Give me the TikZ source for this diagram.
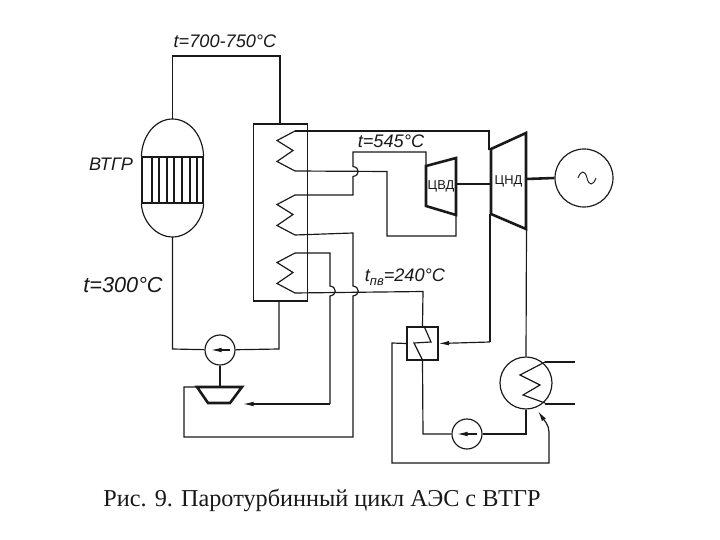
\documentclass[tikz,border=0pt]{standalone}
\usepackage{fontspec}
\setmainfont{Liberation Serif}
\newfontfamily\handfont{Liberation Sans}
\usetikzlibrary{scopes,arrows.meta}
\definecolor{ink}{gray}{0.1}
\newcommand{\hop}[2]{-- (#1,#2-5) .. controls +(7,1) and +(7,-1) .. (#1,#2+5)}
\tikzset{
  pipe/.style={draw=ink,line width=1pt,line join=miter},
  shaft/.style={draw=ink,line width=2.2pt},
  flow/.style={pipe,-{Latex[length=9pt,width=4pt]}},
  hand/.style={inner sep=0pt,text=ink,font=\handfont\itshape\fontsize{15.5}{16}\selectfont},
  small/.style={font=\handfont\fontsize{11}{11}\selectfont},
  large/.style={font=\handfont\itshape\fontsize{18.5}{19}\selectfont},
  roundbox/.style={circle,draw=ink,line width=1pt,inner sep=0pt,fill=white},
  box/.style={draw=ink,line width=1pt,inner sep=0pt}
}
\begin{document}
\begin{tikzpicture}[x=0.03cm,y=-0.03cm]
  \useasboundingbox (0,0) rectangle (720,540);

  \node[box,minimum width=1.83cm,minimum height=1.38cm] (core) at (172.5,180) {};
  \coordinate (rtop) at (172.5,119);
  \coordinate (rbot) at (172.5,237);
  \node[box,minimum width=1.62cm,minimum height=5.31cm] (hxbox) at (280.5,212.5) {};
  \node[roundbox,minimum size=0.9cm] (feedpump) at (220,350) {};
  \node[roundbox,minimum size=0.9cm] (condpump) at (467,434) {};
  \node[roundbox,minimum size=1.74cm] (gen) at (584,178) {};
  \node[roundbox,minimum size=1.56cm] (cond) at (526,383) {};
  \node[box,minimum width=0.93cm,minimum height=0.99cm] (heater) at (422.5,343.5) {};

  \coordinate (hvd) at (441,186);
  \coordinate (lpc) at (508.5,181);
  \coordinate (drive) at (220,387);

  { [pipe]
    \draw (core.north west) .. controls (142,135) and (156,119) .. (rtop)
      .. controls (189,119) and (203,135) .. (core.north east);
    \draw (core.south west) .. controls (142,221) and (156,237) .. (rbot)
      .. controls (189,237) and (203,221) .. (core.south east);
    \foreach \x in {152,159,167,174,182,190,197}
      \draw (\x,157) -- (\x,203);
    \draw (rtop) -- (172.5,56) -- (280,56) -- (280,124);
    \draw (rbot) -- (172.5,349) -- (feedpump);
    \draw (feedpump) -- (279,349) -- (279,301);
    \foreach \y/\n in {131/a,195/b,253/c} {
      \coordinate (coil\n) at (295,\y);
      \draw (coil\n) -- ++(-18,9.5) -- ++(16,10) -- ++(-16,11) -- ++(18,9.5)
        coordinate (coilend\n);
    }
    \draw (coila) -- (489,131) -- (489,150);
    \draw (coilenda) -- (387,171.5) -- (387,236) -- (456,236) -- (456,214);
    \draw (426,166) -- (426,152) -- (353,152) \hop{353}{171.5} -- (353,195) -- (coilb);
    \draw (coilendb) -- (353,233) \hop{353}{291} -- (353,437) -- (184,437) -- (184,387) -- (200,387);
    \draw (coilc) -- (330,253) \hop{330}{291} -- (330,404) coordinate (bleed);
    \draw (coilendc) -- (423,291.5) -- (heater.north);
    \draw (490,214) -- (490,342) coordinate (lpout);
    \draw (526.5,229) -- (cond.north);
    \draw (heater.west) -- (392,343) -- (392,463) -- (549,463) -- (549,432)
      coordinate (retstart);
    \draw (cond.south) -- (526,434) -- (condpump);
    \draw (condpump) -- (423,434) -- (heater.south);
    \draw (545,362) -- (575,362);
    \draw (545,404) -- (575,404);
    \draw (545,362) -- (520,375) -- (540,385) -- (523,395) -- (545,403);
    \draw (424,326) -- (431,342) -- (414,343) -- (422,359);
    \draw[thick] (578,178) .. controls (581,170) and (585,170) .. (587,178)
      .. controls (589,186) and (593,186) .. (596,178);
  }
  { [flow]
    \draw (bleed) -- (243,404);
    \draw (lpout) -- (heater.east);
    \draw (retstart) .. controls (549,425) and (544,420) .. (538,411);
    \draw (230,350) -- (211,350);
    \draw (477,434) -- (457,434);
  }
  { [shaft]
    \draw (426,166) -- (456,158) -- (456,215) -- (426,206) -- cycle;
    \draw (491,149) -- (526,133) -- (526,229) -- (491,214) -- cycle;
    \draw (456,184) -- (491,184);
    \draw (526,179) -- (gen.west);
    \draw (feedpump.south) -- (drive);
    \draw (197,387) -- (242,387) -- (230,403) -- (208,403) -- cycle;
  }

  { [hand]
    \node (tout) at (225,41) {t=700-750°C};
    \node (reactor) at (111,164) {ВТГР};
    \node[large] (tin) at (123,285) {t=300°C};
    \node (tsteam) at (391,141) {t=545°C};
    \node (tfeed) at (405,277) {t\raisebox{-3pt}{\fontsize{11}{11}\selectfont пв}=240°C};
    \node[small] (hvdlabel) at (hvd) {ЦВД};
    \node[small] (lpclabel) at (lpc) {ЦНД};
  }
  \node[inner sep=0pt,text=ink,font=\fontsize{20.7}{21}\selectfont] (caption) at (322,500)
    {Рис. 9. Паротурбинный цикл АЭС с ВТГР};
\end{tikzpicture}
\end{document}
